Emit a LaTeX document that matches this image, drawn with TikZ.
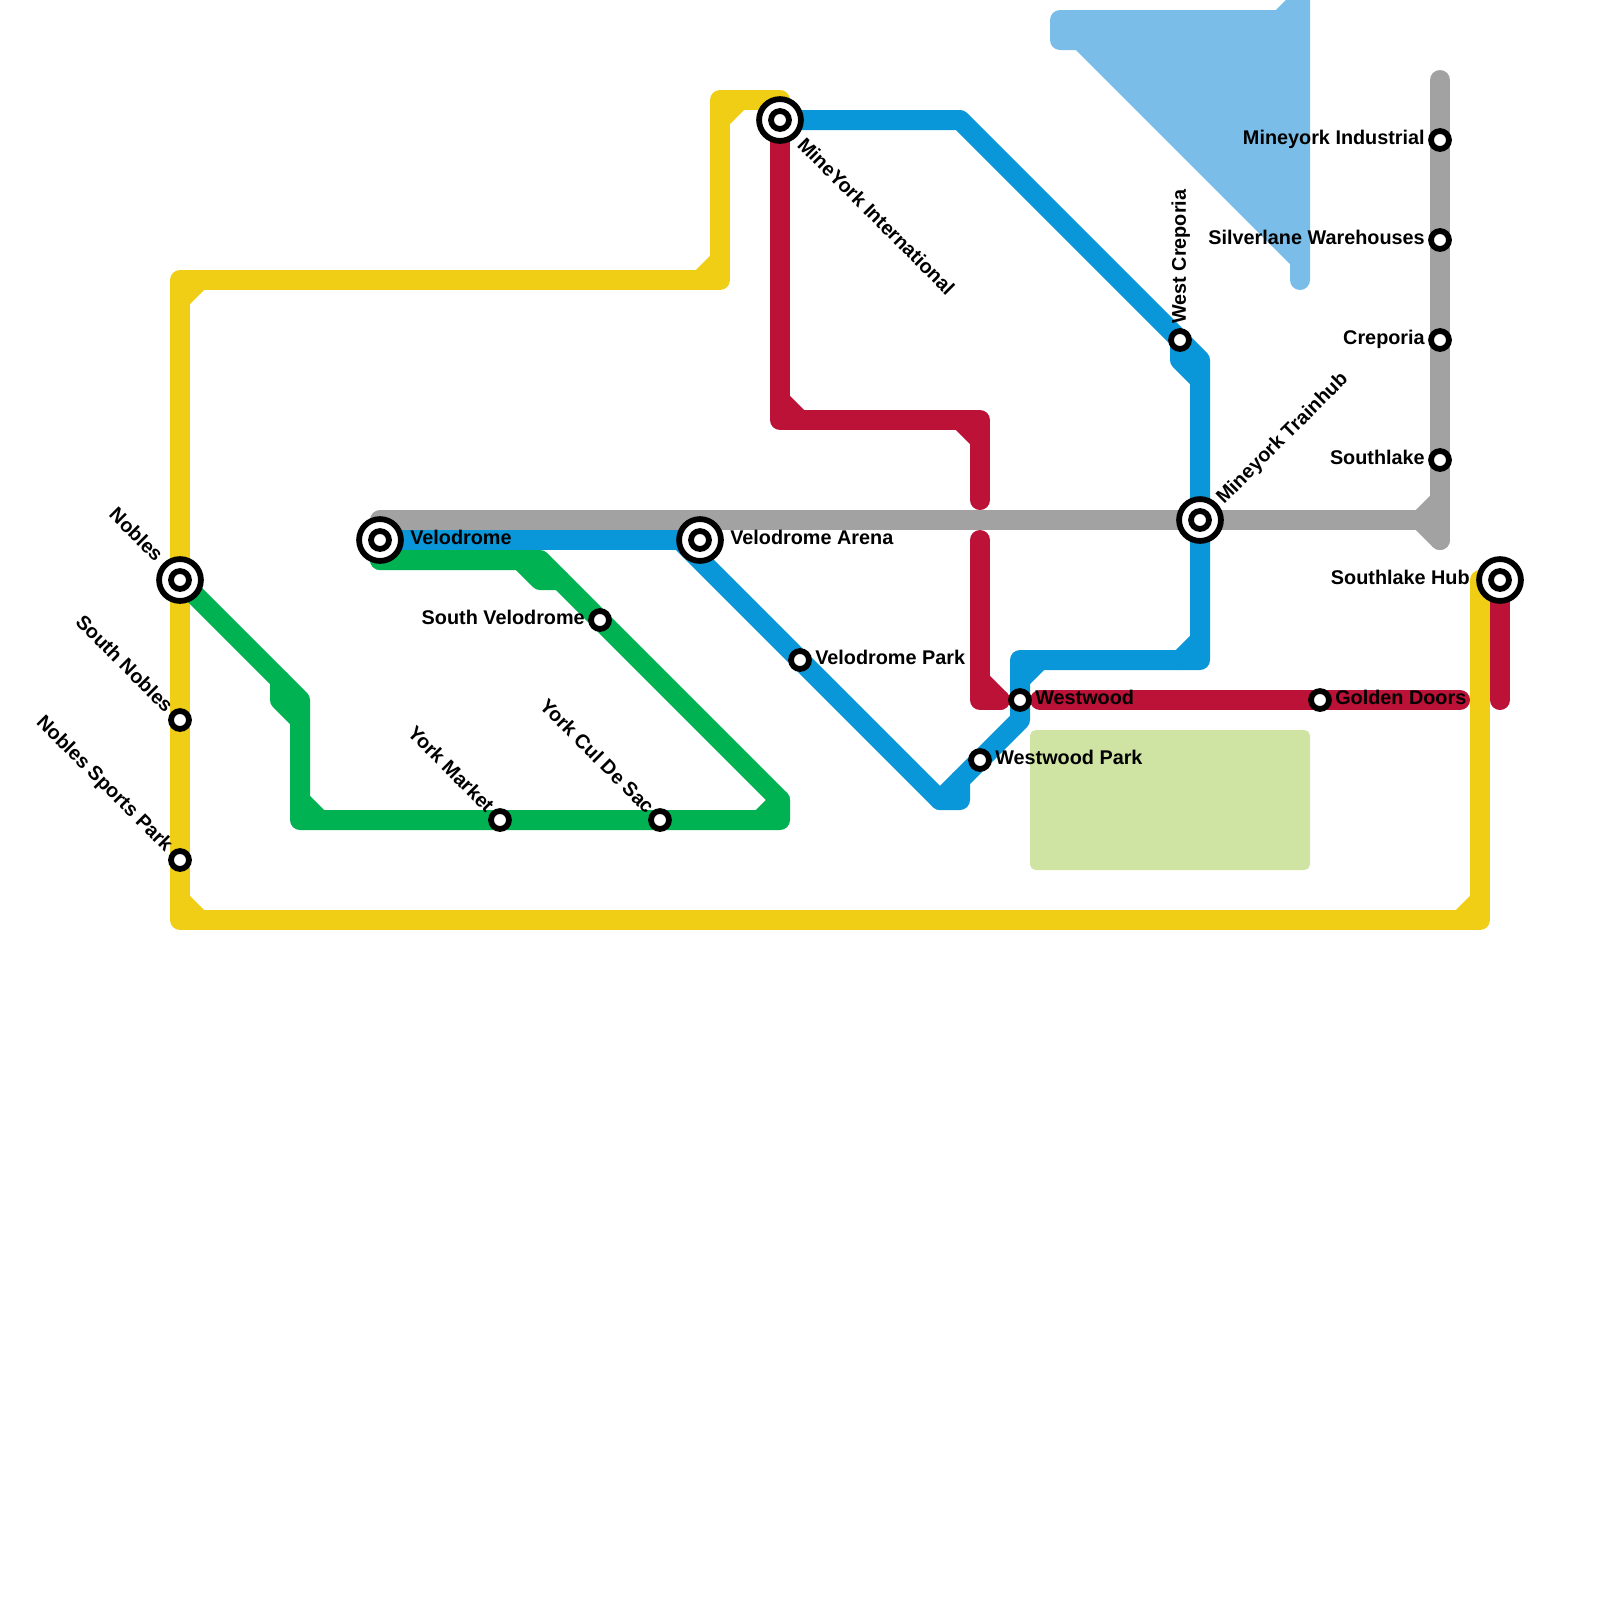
\documentclass[tikz,border=0pt]{standalone}
\usepackage{fontspec}
\setmainfont{Liberation Sans}
\usetikzlibrary{backgrounds}

\definecolor{lineyellow}{HTML}{F0CE15}
\definecolor{linegreen}{HTML}{00B251}
\definecolor{linegrey}{HTML}{A2A2A2}
\definecolor{linered}{HTML}{BC1238}
\definecolor{lineblue}{HTML}{0A97D9}
\definecolor{linesky}{HTML}{7ABDE9}
\definecolor{parkgreen}{HTML}{CFE4A3}

\tikzset{
  metro/.style={line width=0.5cm, line join=round, line cap=round},
  yline/.style={metro, draw=lineyellow},
  gline/.style={metro, draw=linegreen},
  kline/.style={metro, draw=linegrey},
  rline/.style={metro, draw=linered},
  bline/.style={metro, draw=lineblue},
  sline/.style={metro, draw=linesky, fill=linesky},
  stop/.style={
    circle,
    draw=black,
    fill=white,
    line width=4.1pt,
    inner sep=0pt,
    outer sep=0pt,
    minimum size=12.76pt,
  },
  hub/.style={
    stop,
    minimum size=29.77pt,
  },
  lbl/.style={
    font=\fontsize{14.1}{15}\selectfont\bfseries,
    text=black,
    inner sep=0pt,
    text height=9.8pt,
    text depth=0pt,
  },
}

\begin{document}
\begin{tikzpicture}[x=0.5cm,y=-0.5cm]

    \useasboundingbox (0,0) rectangle (80,80);

    \node[hub] (nobles) at (9,29) {};
    \node[hub] (velodrome) at (19,27) {};
    \node[hub] (arena) at (35,27) {};
    \node[hub] (mineyork) at (39,6) {};
    \node[hub] (trainhub) at (60,26) {};
    \node[hub] (lakehub) at (75,29) {};

    \node[stop] (nobles c) at (9,29) {};
    \node[stop] (velodrome c) at (19,27) {};
    \node[stop] (arena c) at (35,27) {};
    \node[stop] (mineyork c) at (39,6) {};
    \node[stop] (trainhub c) at (60,26) {};
    \node[stop] (lakehub c) at (75,29) {};

    \node[stop] (southnobles) at (9,36) {};
    \node[stop] (sportspark) at (9,43) {};
    \node[stop] (southvelo) at (30,31) {};
    \node[stop] (yorkmarket) at (25,41) {};
    \node[stop] (culdesac) at (33,41) {};
    \node[stop] (velopark) at (40,33) {};
    \node[stop] (westwood) at (51,35) {};
    \node[stop] (woodpark) at (49,38) {};
    \node[stop] (golden) at (66,35) {};
    \node[stop] (westcrep) at (59,17) {};
    \node[stop] (industrial) at (72,7) {};
    \node[stop] (silverlane) at (72,12) {};
    \node[stop] (creporia) at (72,17) {};
    \node[stop] (southlake) at (72,23) {};

    \coordinate (ya) at (36,5);
    \coordinate (yb) at (36,14);
    \coordinate (yc) at (9,14);
    \coordinate (yd) at (9,46);
    \coordinate (ye) at (74,46);
    \coordinate (ystart) at (39,5);
    \coordinate (yend) at (74,29);

    \coordinate (ga) at (14,34);
    \coordinate (gb) at (15,35);
    \coordinate (gc) at (15,41);
    \coordinate (gd) at (39,41);
    \coordinate (ge) at (39,40);
    \coordinate (gf) at (27,28);
    \coordinate (gg) at (19,28);

    \coordinate (ka) at (19,26);
    \coordinate (kb) at (72,26);
    \coordinate (kc) at (72,4);
    \coordinate (kd) at (72,27);

    \coordinate (ra) at (39,21);
    \coordinate (rb) at (49,21);
    \coordinate (rc) at (49,25);
    \coordinate (rd) at (49,27);
    \coordinate (re) at (49,35);
    \coordinate (rf) at (50,35);
    \coordinate (rg) at (52,35);
    \coordinate (rh) at (73,35);
    \coordinate (ri) at (75,35);

    \coordinate (ba) at (34,27);
    \coordinate (bb) at (47,40);
    \coordinate (bc) at (48,40);
    \coordinate (bd) at (48,39);
    \coordinate (be) at (51,36);
    \coordinate (bf) at (51,33);
    \coordinate (bg) at (60,33);
    \coordinate (bh) at (60,18);
    \coordinate (bi) at (48,6);

    \coordinate (sa) at (53,1);
    \coordinate (sb) at (64,1);
    \coordinate (sc) at (65,0);
    \coordinate (sd) at (65,-1);
    \coordinate (se) at (65,14);
    \coordinate (sf) at (65,13);
    \coordinate (sg) at (54,2);
    \coordinate (sh) at (53,2);

    \begin{scope}[on background layer]
      \clip (0,0) rectangle (80,80);

      \fill[parkgreen, rounded corners=0.14cm] (51.5,36.5) rectangle (65.5,43.5);

      \draw[sline] (sa)--(sb)--(sc)--(sd)--(se)--(sf)--(sg)--(sh)--cycle;

      \draw[yline] (ystart)--(ya)--(yb)--(yc)--(nobles.center)--(southnobles.center)--(sportspark.center)--(yd)--(ye)--(yend);
      \draw[yline] (ya) +(0,1) -- +(1,0);
      \draw[yline] (yb) +(-1,0) -- +(0,-1);
      \draw[yline] (yc) +(0,1) -- +(1,0);
      \draw[yline] (yd) +(0,-1) -- +(1,0);
      \draw[yline] (ye) +(-1,0) -- +(0,-1);

      \draw[gline] (nobles.center)--(gb)--(gc)--(yorkmarket.center)--(culdesac.center)--(gd)--(ge)--(southvelo.center)--(gf)--(gg);
      \draw[gline] (gg)--(velodrome.center);
      \draw[gline] (ga) -- +(0,1) -- +(1,2);
      \draw[gline] (gc) +(0,-1) -- +(1,0);
      \draw[gline] (gd) +(-1,0) -- +(0,-1);
      \draw[gline] (gf) +(-1,0) -- +(0,1) -- +(1,1);

      \draw[kline] (ka)--(trainhub.center)--(kb);
      \draw[kline] (kc)--(industrial.center)--(silverlane.center)--(creporia.center)--(southlake.center)--(kd);
      \draw[kline] (kb) +(-1,0) -- +(0,-1);
      \draw[kline] (kb) +(-1,0) -- +(0,1);

      \draw[rline] (mineyork.center)--(ra)--(rb)--(rc);
      \draw[rline] (rd)--(re)--(rf);
      \draw[rline] (rg)--(golden.center)--(rh);
      \draw[rline] (lakehub.center)--(ri);
      \draw[rline] (ra) +(0,-1) -- +(1,0);
      \draw[rline] (rb) +(-1,0) -- +(0,1);
      \draw[rline] (re) +(0,-1) -- +(1,0);

      \draw[bline] (velodrome.center)--(arena.center);
      \draw[bline] (ba)--(velopark.center)--(bb)--(bc)--(bd)--(woodpark.center)--(be)--(westwood.center)--(bf)--(bg)--(trainhub.center)--(bh)--(westcrep.center)--(bi)--(mineyork.center);
      \draw[bline] (bb)--(bd);
      \draw[bline] (bf) +(1,0) -- +(0,1);
      \draw[bline] (bg) +(-1,0) -- +(0,-1);
      \draw[bline] (westcrep.center) -- +(0,1) -- +(1,2);
    \end{scope}

    \node[lbl, anchor=east, rotate=-45] (nobles t) at (8,27.9) {Nobles};
    \node[lbl, anchor=east, rotate=-45] (southnobles t) at (8.5,35.45) {South Nobles};
    \node[lbl, anchor=east, rotate=-45] (sportspark t) at (8.5,42.4) {Nobles Sports Park};
    \node[lbl, anchor=east, rotate=-45] (yorkmarket t) at (24.55,40.45) {York Market};
    \node[lbl, anchor=east, rotate=-45] (culdesac t) at (32.55,40.5) {York Cul De Sac};
    \node[lbl, anchor=west, rotate=-45] (mineyork t) at (40.05,7.05) {MineYork International};
    \node[lbl, anchor=west, rotate=90] (westcrep t) at (58.95,16.2) {West Creporia};
    \node[lbl, anchor=west, rotate=45] (trainhub t) at (60.95,25) {Mineyork Trainhub};

    \node[lbl, anchor=east] (southvelo t) at (29.25,30.9) {South Velodrome};
    \node[lbl, anchor=west] (velopark t) at (40.75,32.9) {Velodrome Park};
    \node[lbl, anchor=west] (velodrome t) at (20.5,26.9) {Velodrome};
    \node[lbl, anchor=west] (arena t) at (36.5,26.9) {Velodrome Arena};
    \node[lbl, anchor=east] (industrial t) at (71.25,6.9) {Mineyork Industrial};
    \node[lbl, anchor=east] (silverlane t) at (71.25,11.9) {Silverlane Warehouses};
    \node[lbl, anchor=east] (creporia t) at (71.25,16.9) {Creporia};
    \node[lbl, anchor=east] (southlake t) at (71.25,22.9) {Southlake};
    \node[lbl, anchor=east] (lakehub t) at (73.5,28.9) {Southlake Hub};
    \node[lbl, anchor=west] (westwood t) at (51.75,34.9) {Westwood};
    \node[lbl, anchor=west] (golden t) at (66.75,34.9) {Golden Doors};
    \node[lbl, anchor=west] (woodpark t) at (49.75,37.9) {Westwood Park};

\end{tikzpicture}
\end{document}
